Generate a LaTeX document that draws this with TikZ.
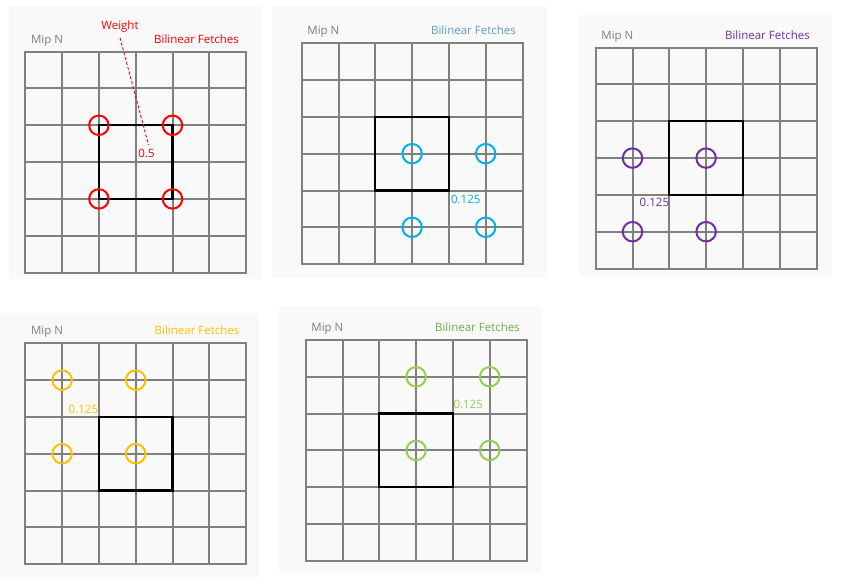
\documentclass[tikz,border=0pt]{standalone}
\usepackage{fontspec}
\setmainfont{Open Sans}
\usepackage{xcolor}
\usetikzlibrary{positioning}

\definecolor{gridgray}{HTML}{808080}
\definecolor{panelbg}{HTML}{F9F9F9}
\definecolor{mipgray}{HTML}{7F7F7F}
\definecolor{fetchred}{HTML}{FF0000}
\definecolor{fetchblue}{HTML}{00B0F0}
\definecolor{titleblue}{HTML}{5B9BD5}
\definecolor{fetchpurple}{HTML}{7030A0}
\definecolor{fetchyellow}{HTML}{FFC000}
\definecolor{fetchgreen}{HTML}{92D050}
\definecolor{titlegreen}{HTML}{70AD47}

\tikzset{
  gridline/.style={draw=gridgray, line width=2pt, line cap=rect},
  texel/.style={draw=black, line width=2.3pt},
  fetch/.style={circle, draw=#1, line width=2pt, minimum size=19.5pt, inner sep=0pt},
  tag/.style={inner sep=0pt, text=#1}
}

\begin{document}
\begin{tikzpicture}[x=1pt, y=-1pt, font=\fontsize{11.5}{13}\selectfont]
\useasboundingbox (0,0) rectangle (861,583);

% Panels with grid and center texel
\foreach \bx/\by/\bxx/\byy/\gx/\gy in {9/6/262/279/25.3/51.7, 272/6/547/278/301.7/43.3,
    579/15/832/276/595.7/47.7, 0/313/259/577/25.3/343.3, 279/306/541/573/305.7/340} {
    \fill[panelbg] (\bx,\by) rectangle (\bxx,\byy);
    \foreach \i in {0,...,6} {
        \draw[gridline] (\gx+\i*36.8, \gy) -- (\gx+\i*36.8, \gy+220.8);
        \draw[gridline] (\gx, \gy+\i*36.8) -- (\gx+220.8, \gy+\i*36.8);
    }
    \draw[texel] (\gx+73.6, \gy+73.6) rectangle (\gx+147.2, \gy+147.2);
}

% Panel 1: red
\begin{scope}[shift={(25.3,51.7)}]
    \node[tag=mipgray, anchor=base west] (mipA) at (5.5,-8.5) {Mip N};
    \node[tag=fetchred, anchor=base east] (fetchA) at (213.8,-8.5) {Bilinear Fetches};
    \foreach \cx/\cy [count=\k] in {2/2,4/2,2/4,4/4}
        \node[fetch=fetchred] (a\k) at (\cx*36.8, \cy*36.8) {};
    \node[tag=fetchred, anchor=south west] (half) at (112.9,106) {0.5};
\end{scope}
\node[tag=fetchred, anchor=base] (weight) at (120,29.3) {Weight};
\draw[fetchred, line width=0.9pt, dash pattern=on 3pt off 2pt]
    ([yshift=-8.5pt]weight.base) -- ([shift={(2pt,4pt)}]half.north);

% Panel 2: blue
\begin{scope}[shift={(301.7,43.3)}]
    \node[tag=mipgray, anchor=base west] (mipB) at (5.5,-8.5) {Mip N};
    \node[tag=titleblue, anchor=base east] (fetchB) at (214.3,-8.5) {Bilinear Fetches};
    \foreach \cx/\cy [count=\k] in {3/3,5/3,3/5,5/5}
        \node[fetch=fetchblue] (b\k) at (\cx*36.8, \cy*36.8) {};
    \node[tag=fetchblue, anchor=north west] (wB) at (149.2,151.5) {0.125};
\end{scope}

% Panel 3: purple
\begin{scope}[shift={(595.7,47.7)}]
    \node[tag=mipgray, anchor=base west] (mipC) at (5.5,-8.5) {Mip N};
    \node[tag=fetchpurple, anchor=base east] (fetchC) at (214.3,-8.5) {Bilinear Fetches};
    \foreach \cx/\cy [count=\k] in {1/3,3/3,1/5,3/5}
        \node[fetch=fetchpurple] (c\k) at (\cx*36.8, \cy*36.8) {};
    \node[tag=fetchpurple, anchor=north east] (wC) at (73.6,150.5) {0.125};
\end{scope}

% Panel 4: yellow
\begin{scope}[shift={(25.3,343.3)}]
    \node[tag=mipgray, anchor=base west] (mipD) at (5.5,-8.5) {Mip N};
    \node[tag=fetchyellow, anchor=base east] (fetchD) at (214.3,-8.5) {Bilinear Fetches};
    \foreach \cx/\cy [count=\k] in {1/1,3/1,1/3,3/3}
        \node[fetch=fetchyellow] (d\k) at (\cx*36.8, \cy*36.8) {};
    \node[tag=fetchyellow, anchor=south east] (wD) at (73,71) {0.125};
\end{scope}

% Panel 5: green
\begin{scope}[shift={(305.7,340)}]
    \node[tag=mipgray, anchor=base west] (mipE) at (5.5,-8.5) {Mip N};
    \node[tag=titlegreen, anchor=base east] (fetchE) at (214.3,-8.5) {Bilinear Fetches};
    \foreach \cx/\cy [count=\k] in {3/1,5/1,3/3,5/3}
        \node[fetch=fetchgreen] (e\k) at (\cx*36.8, \cy*36.8) {};
    \node[tag=fetchgreen, anchor=south west] (wE) at (147.6,69) {0.125};
\end{scope}

\end{tikzpicture}
\end{document}
